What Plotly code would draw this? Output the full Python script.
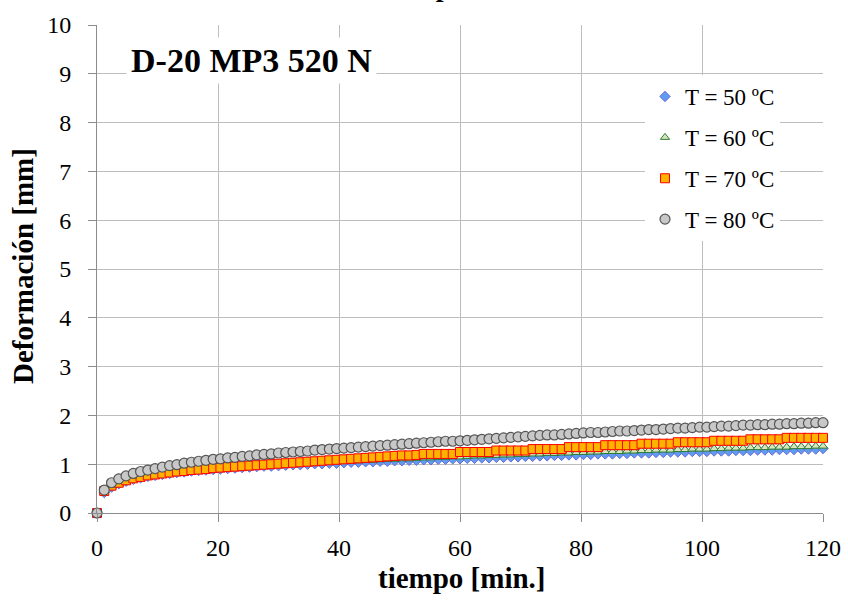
import plotly.graph_objects as go

tiempo = [0, 1.2, 2.4, 3.6, 4.8, 6.0, 7.2, 8.4, 9.6, 10.8,
          12.0, 13.2, 14.4, 15.6, 16.8, 18.0, 19.2, 20.4, 21.6, 22.8,
          24.0, 25.2, 26.4, 27.6, 28.8, 30.0, 31.2, 32.4, 33.6, 34.8,
          36.0, 37.2, 38.4, 39.6, 40.8, 42.0, 43.2, 44.4, 45.6, 46.8,
          48.0, 49.2, 50.4, 51.6, 52.8, 54.0, 55.2, 56.4, 57.6, 58.8,
          60.0, 61.2, 62.4, 63.6, 64.8, 66.0, 67.2, 68.4, 69.6, 70.8,
          72.0, 73.2, 74.4, 75.6, 76.8, 78.0, 79.2, 80.4, 81.6, 82.8,
          84.0, 85.2, 86.4, 87.6, 88.8, 90.0, 91.2, 92.4, 93.6, 94.8,
          96.0, 97.2, 98.4, 99.6, 100.8, 102.0, 103.2, 104.4, 105.6, 106.8,
          108.0, 109.2, 110.4, 111.6, 112.8, 114.0, 115.2, 116.4, 117.6, 118.8,
          120.0]

def_50 = [0, 0.42, 0.53, 0.60, 0.65, 0.69, 0.72, 0.75, 0.77, 0.79,
          0.81, 0.83, 0.84, 0.86, 0.87, 0.88, 0.89, 0.90, 0.91, 0.92,
          0.93, 0.94, 0.95, 0.96, 0.96, 0.97, 0.98, 0.99, 0.99, 1.00,
          1.01, 1.01, 1.02, 1.02, 1.03, 1.04, 1.04, 1.05, 1.05, 1.06,
          1.06, 1.07, 1.07, 1.08, 1.08, 1.09, 1.09, 1.10, 1.10, 1.11,
          1.11, 1.12, 1.12, 1.13, 1.13, 1.14, 1.14, 1.15, 1.15, 1.16,
          1.16, 1.17, 1.17, 1.18, 1.18, 1.19, 1.19, 1.20, 1.20, 1.21,
          1.21, 1.21, 1.22, 1.22, 1.23, 1.23, 1.23, 1.24, 1.24, 1.25,
          1.25, 1.25, 1.26, 1.26, 1.26, 1.27, 1.27, 1.27, 1.28, 1.28,
          1.28, 1.29, 1.29, 1.29, 1.30, 1.30, 1.30, 1.31, 1.31, 1.31,
          1.32]

def_60 = [0, 0.43, 0.54, 0.61, 0.66, 0.70, 0.73, 0.76, 0.78, 0.80,
          0.82, 0.84, 0.85, 0.87, 0.88, 0.89, 0.90, 0.91, 0.92, 0.93,
          0.94, 0.95, 0.96, 0.97, 0.98, 0.99, 1.00, 1.01, 1.01, 1.02,
          1.03, 1.04, 1.04, 1.05, 1.06, 1.06, 1.07, 1.08, 1.08, 1.09,
          1.10, 1.10, 1.11, 1.11, 1.12, 1.13, 1.13, 1.14, 1.14, 1.15,
          1.15, 1.16, 1.17, 1.17, 1.18, 1.18, 1.19, 1.19, 1.20, 1.20,
          1.21, 1.21, 1.22, 1.22, 1.23, 1.23, 1.24, 1.24, 1.25, 1.25,
          1.26, 1.26, 1.26, 1.27, 1.27, 1.28, 1.28, 1.29, 1.29, 1.29,
          1.30, 1.30, 1.31, 1.31, 1.31, 1.32, 1.32, 1.33, 1.33, 1.33,
          1.34, 1.34, 1.34, 1.35, 1.35, 1.35, 1.36, 1.36, 1.36, 1.37,
          1.37]

def_70 = [0, 0.45, 0.56, 0.62, 0.67, 0.71, 0.74, 0.77, 0.79, 0.81,
          0.83, 0.85, 0.86, 0.88, 0.89, 0.90, 0.92, 0.93, 0.94, 0.95,
          0.96, 0.97, 0.98, 0.99, 1.00, 1.01, 1.02, 1.03, 1.04, 1.05,
          1.06, 1.07, 1.08, 1.09, 1.10, 1.11, 1.12, 1.13, 1.14, 1.15,
          1.16, 1.17, 1.18, 1.18, 1.19, 1.21, 1.21, 1.21, 1.21, 1.21,
          1.25, 1.25, 1.25, 1.25, 1.25, 1.28, 1.28, 1.28, 1.28, 1.28,
          1.31, 1.31, 1.31, 1.31, 1.31, 1.35, 1.35, 1.35, 1.35, 1.35,
          1.39, 1.39, 1.39, 1.39, 1.39, 1.42, 1.42, 1.42, 1.42, 1.42,
          1.45, 1.45, 1.45, 1.45, 1.45, 1.48, 1.48, 1.48, 1.48, 1.48,
          1.51, 1.51, 1.51, 1.51, 1.51, 1.54, 1.54, 1.54, 1.54, 1.54,
          1.54]

def_80 = [0, 0.47, 0.62, 0.70, 0.76, 0.81, 0.85, 0.88, 0.91, 0.94,
          0.97, 0.99, 1.02, 1.04, 1.06, 1.08, 1.10, 1.11, 1.13, 1.14,
          1.16, 1.17, 1.19, 1.20, 1.21, 1.23, 1.24, 1.25, 1.26, 1.27,
          1.29, 1.30, 1.31, 1.32, 1.33, 1.34, 1.35, 1.36, 1.37, 1.38,
          1.39, 1.40, 1.41, 1.42, 1.43, 1.44, 1.45, 1.46, 1.47, 1.47,
          1.48, 1.49, 1.50, 1.51, 1.52, 1.53, 1.54, 1.55, 1.56, 1.57,
          1.58, 1.59, 1.60, 1.60, 1.61, 1.62, 1.63, 1.64, 1.65, 1.65,
          1.66, 1.67, 1.68, 1.68, 1.69, 1.70, 1.71, 1.71, 1.72, 1.73,
          1.74, 1.74, 1.75, 1.76, 1.76, 1.77, 1.78, 1.78, 1.79, 1.80,
          1.80, 1.81, 1.81, 1.82, 1.82, 1.83, 1.83, 1.84, 1.84, 1.85,
          1.85]

series_names = ["T = 50 ºC", "T = 60 ºC", "T = 70 ºC", "T = 80 ºC"]
x_ticks = [0, 20, 40, 60, 80, 100, 120]
y_ticks = [0, 1, 2, 3, 4, 5, 6, 7, 8, 9, 10]

SERIF = "Liberation Serif, Times New Roman, serif"

styles = [
    dict(symbol="diamond", size=8, color="#5f9cf0", line=dict(color="#6a6ad8", width=1)),
    dict(symbol="triangle-up", size=8, color="#d7e4bd", line=dict(color="#2e7d32", width=1)),
    dict(symbol="square", size=9, color="#ffb300", line=dict(color="#ff0000", width=1)),
    dict(symbol="circle", size=10, color="#c8c8c8", line=dict(color="#555555", width=1.2)),
]

fig = go.Figure()
for name, vals, st, grp in zip(series_names, [def_50, def_60, def_70, def_80], styles,
                               ["g1", "g2", "g3", "g4"]):
    fig.add_trace(go.Scatter(x=tiempo, y=vals, mode="markers", name=name,
                             marker=st, cliponaxis=False, legendgroup=grp))

PL, PR, PT, PB = 97, 823, 25, 513
W, H = 848, 601

def px_x(p):
    return (p - PL) / (PR - PL)

def px_y(p):
    return (PB - p) / (PB - PT)

fig.update_layout(
    width=W, height=H,
    margin=dict(l=PL, r=W - PR, t=PT, b=H - PB, autoexpand=False),
    paper_bgcolor="white", plot_bgcolor="white",
    font=dict(family=SERIF, size=24, color="#000000"),
    showlegend=True,
    legend=dict(x=px_x(645), y=px_y(75), xanchor="left", yanchor="top",
                bgcolor="white", font=dict(family=SERIF, size=23),
                tracegroupgap=8, itemwidth=30),
    xaxis=dict(range=[0, 120], tickvals=x_ticks, showgrid=True, gridcolor="#bdbdbd",
               gridwidth=1, showline=True, linecolor="#8c8c8c", linewidth=1,
               ticks="outside", ticklen=8, tickcolor="#8c8c8c", zeroline=False,
               automargin=False, ticklabelstandoff=5, tickfont=dict(family=SERIF, size=24)),
    yaxis=dict(range=[0, 10], tickvals=y_ticks, showgrid=True, gridcolor="#bdbdbd",
               gridwidth=1, showline=True, linecolor="#8c8c8c", linewidth=1,
               ticks="outside", ticklen=8, tickcolor="#8c8c8c", zeroline=False,
               automargin=False, ticklabelstandoff=12, tickfont=dict(family=SERIF, size=24)),
    annotations=[
        dict(text="<b>D-20 MP3 520 N</b>", xref="paper", yref="paper",
             x=px_x(251), y=px_y(60), xanchor="center", yanchor="middle",
             showarrow=False, bgcolor="white", borderpad=4,
             font=dict(family=SERIF, size=34, color="#000000")),
        dict(text="<b>tiempo [min.]</b>", xref="paper", yref="paper",
             x=px_x(462), y=px_y(578), xanchor="center", yanchor="middle",
             showarrow=False, font=dict(family=SERIF, size=29, color="#000000")),
        dict(text="<b>Deformación [mm]</b>", xref="paper", yref="paper", textangle=-90,
             x=px_x(23), y=px_y(266), xanchor="center", yanchor="middle",
             showarrow=False, font=dict(family=SERIF, size=29, color="#000000")),
        dict(text="<b>tiempo [min.]</b>", xref="paper", yref="paper",
             x=px_x(464), y=px_y(4), xanchor="center", yanchor="bottom",
             showarrow=False, font=dict(family=SERIF, size=28, color="#000000")),
    ],
)

fig.write_html("out.html", config={"displayModeBar": False},
               post_script="document.body.style.margin='0';")
